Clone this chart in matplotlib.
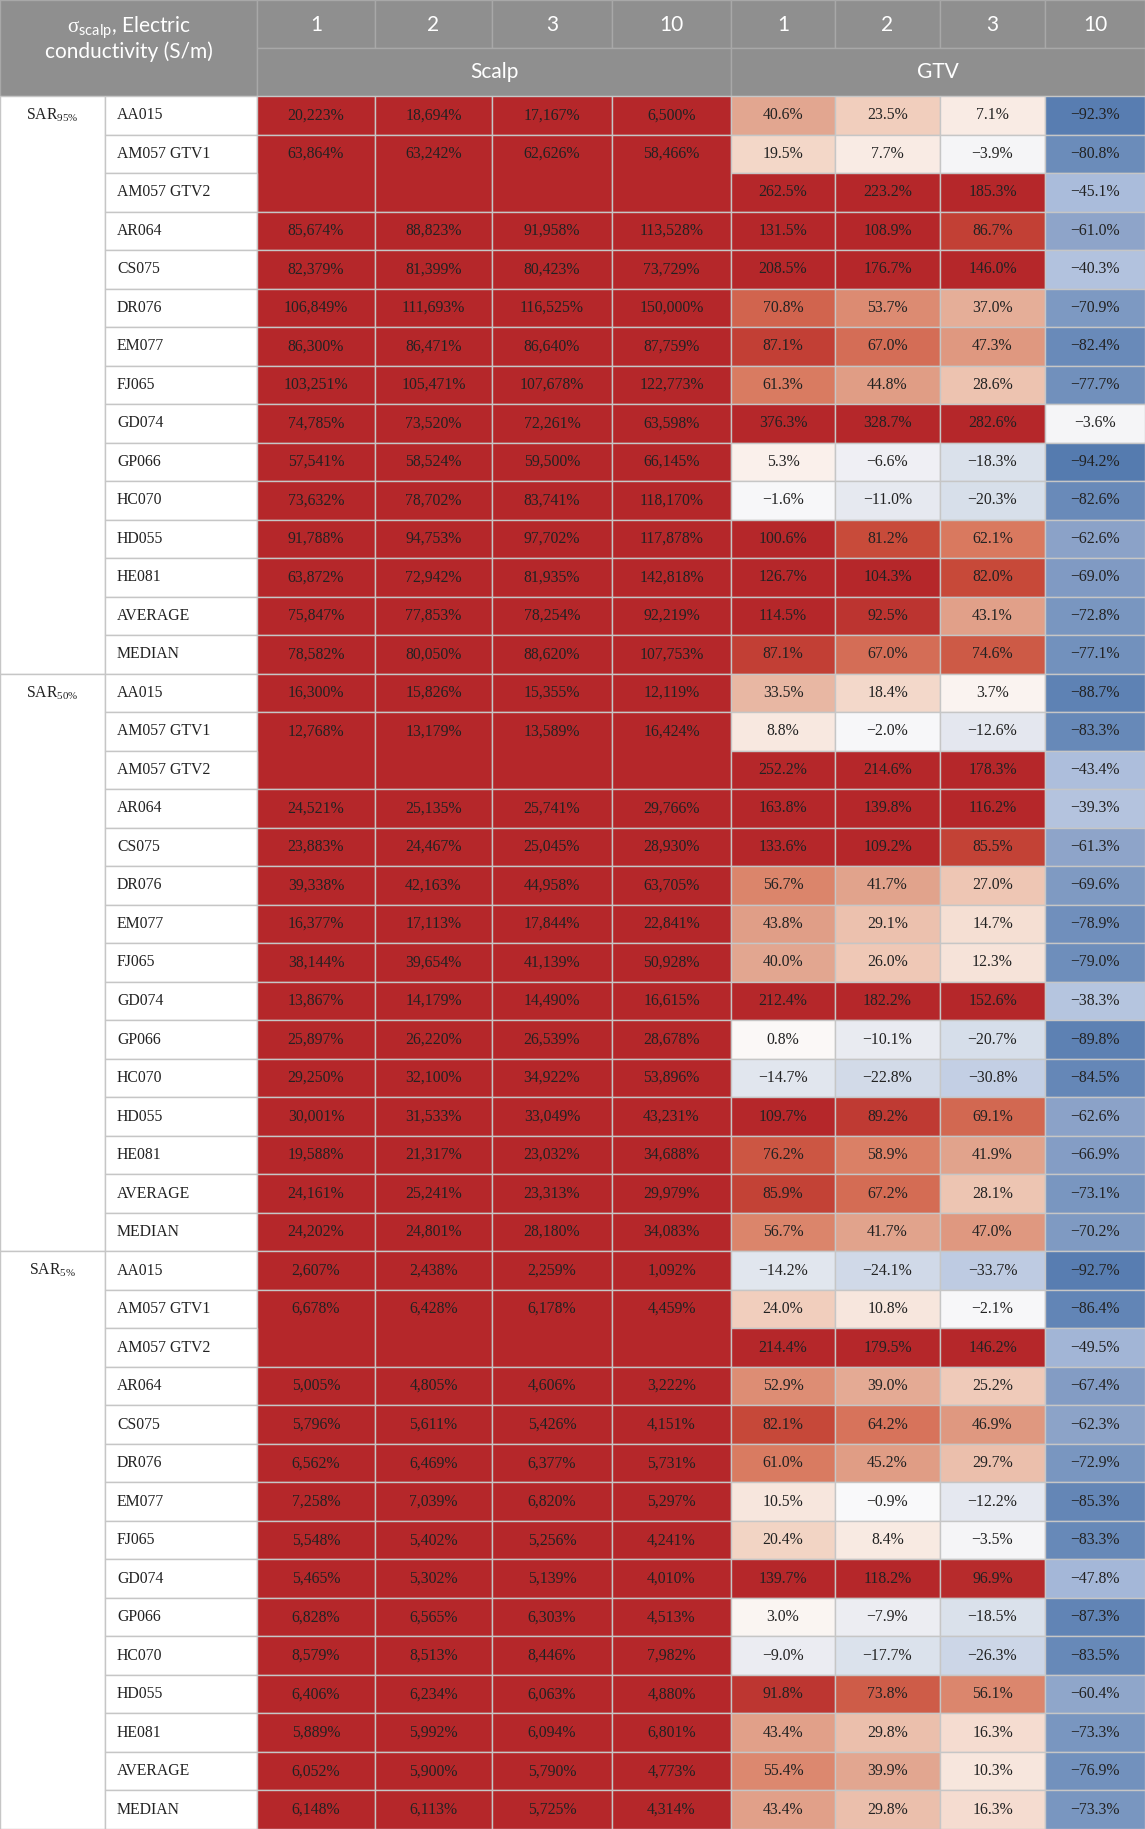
import numpy as np
import matplotlib
matplotlib.use('Agg')
import matplotlib.pyplot as plt
from matplotlib.patches import Rectangle
from matplotlib.colors import LinearSegmentedColormap, Normalize

# ---- data ----
conductivity = ['1', '2', '3', '10']
sar_levels = ['95', '50', '5']
patients = ['AA015', 'AM057 GTV1', 'AM057 GTV2', 'AR064', 'CS075', 'DR076', 'EM077',
            'FJ065', 'GD074', 'GP066', 'HC070', 'HD055', 'HE081', 'AVERAGE', 'MEDIAN']

# scalp values (%), None = merged with the row above
scalp_95 = [[20223, 18694, 17167, 6500], [63864, 63242, 62626, 58466], None,
            [85674, 88823, 91958, 113528], [82379, 81399, 80423, 73729],
            [106849, 111693, 116525, 150000], [86300, 86471, 86640, 87759],
            [103251, 105471, 107678, 122773], [74785, 73520, 72261, 63598],
            [57541, 58524, 59500, 66145], [73632, 78702, 83741, 118170],
            [91788, 94753, 97702, 117878], [63872, 72942, 81935, 142818],
            [75847, 77853, 78254, 92219], [78582, 80050, 88620, 107753]]
scalp_50 = [[16300, 15826, 15355, 12119], [12768, 13179, 13589, 16424], None,
            [24521, 25135, 25741, 29766], [23883, 24467, 25045, 28930],
            [39338, 42163, 44958, 63705], [16377, 17113, 17844, 22841],
            [38144, 39654, 41139, 50928], [13867, 14179, 14490, 16615],
            [25897, 26220, 26539, 28678], [29250, 32100, 34922, 53896],
            [30001, 31533, 33049, 43231], [19588, 21317, 23032, 34688],
            [24161, 25241, 23313, 29979], [24202, 24801, 28180, 34083]]
scalp_5 = [[2607, 2438, 2259, 1092], [6678, 6428, 6178, 4459], None,
           [5005, 4805, 4606, 3222], [5796, 5611, 5426, 4151],
           [6562, 6469, 6377, 5731], [7258, 7039, 6820, 5297],
           [5548, 5402, 5256, 4241], [5465, 5302, 5139, 4010],
           [6828, 6565, 6303, 4513], [8579, 8513, 8446, 7982],
           [6406, 6234, 6063, 4880], [5889, 5992, 6094, 6801],
           [6052, 5900, 5790, 4773], [6148, 6113, 5725, 4314]]

gtv_95 = [[40.6, 23.5, 7.1, -92.3], [19.5, 7.7, -3.9, -80.8], [262.5, 223.2, 185.3, -45.1],
          [131.5, 108.9, 86.7, -61.0], [208.5, 176.7, 146.0, -40.3], [70.8, 53.7, 37.0, -70.9],
          [87.1, 67.0, 47.3, -82.4], [61.3, 44.8, 28.6, -77.7], [376.3, 328.7, 282.6, -3.6],
          [5.3, -6.6, -18.3, -94.2], [-1.6, -11.0, -20.3, -82.6], [100.6, 81.2, 62.1, -62.6],
          [126.7, 104.3, 82.0, -69.0], [114.5, 92.5, 43.1, -72.8], [87.1, 67.0, 74.6, -77.1]]
gtv_50 = [[33.5, 18.4, 3.7, -88.7], [8.8, -2.0, -12.6, -83.3], [252.2, 214.6, 178.3, -43.4],
          [163.8, 139.8, 116.2, -39.3], [133.6, 109.2, 85.5, -61.3], [56.7, 41.7, 27.0, -69.6],
          [43.8, 29.1, 14.7, -78.9], [40.0, 26.0, 12.3, -79.0], [212.4, 182.2, 152.6, -38.3],
          [0.8, -10.1, -20.7, -89.8], [-14.7, -22.8, -30.8, -84.5], [109.7, 89.2, 69.1, -62.6],
          [76.2, 58.9, 41.9, -66.9], [85.9, 67.2, 28.1, -73.1], [56.7, 41.7, 47.0, -70.2]]
gtv_5 = [[-14.2, -24.1, -33.7, -92.7], [24.0, 10.8, -2.1, -86.4], [214.4, 179.5, 146.2, -49.5],
         [52.9, 39.0, 25.2, -67.4], [82.1, 64.2, 46.9, -62.3], [61.0, 45.2, 29.7, -72.9],
         [10.5, -0.9, -12.2, -85.3], [20.4, 8.4, -3.5, -83.3], [139.7, 118.2, 96.9, -47.8],
         [3.0, -7.9, -18.5, -87.3], [-9.0, -17.7, -26.3, -83.5], [91.8, 73.8, 56.1, -60.4],
         [43.4, 29.8, 16.3, -73.3], [55.4, 39.9, 10.3, -76.9], [43.4, 29.8, 16.3, -73.3]]

scalp_all = [scalp_95, scalp_50, scalp_5]
gtv_all = [gtv_95, gtv_50, gtv_5]

# ---- style ----
plt.rcParams['mathtext.fontset'] = 'custom'
plt.rcParams['mathtext.rm'] = 'Liberation Serif'
plt.rcParams['mathtext.sf'] = 'Lato'

anchors = [(-100, '#4c74ab'), (-82.6, '#698ab9'), (-62.6, '#8ca3c8'), (-45, '#aabcdb'),
           (-19, '#d9e0eb'), (-6, '#f0f0f4'), (0, '#fbfbfb'), (7, '#f9ece5'),
           (23.5, '#f1cfbe'), (40.6, '#e2a68f'), (62, '#d97a60'), (81, '#c84b3a'),
           (100, '#b5272a')]
cmap = LinearSegmentedColormap.from_list(
    'heat', [((v + 100) / 200, c) for v, c in anchors])
norm = Normalize(-100, 100, clip=True)

header_bg = '#8f8f8f'
header_line = '#a8a8a8'
grid = '#c6c6c6'
serif = 'Liberation Serif'
sans = 'Lato'

col_edges = [0, 105, 257, 375, 492, 612, 731, 835, 940, 1045, 1145]
W, H = 1145, 1829
h1, h2 = 48, 96
row_h = (H - h2) / 45

fig = plt.figure(figsize=(W / 100, H / 100), dpi=100)
ax = fig.add_axes([0, 0, 1, 1])
ax.set_xlim(0, W)
ax.set_ylim(H, 0)
ax.axis('off')


def cell(x0, x1, y0, y1, fc, ec, lw=1.0):
    ax.add_patch(Rectangle((x0, y0), x1 - x0, y1 - y0, facecolor=fc,
                           edgecolor=ec, linewidth=lw))


# header
cell(0, col_edges[2], 0, h2, header_bg, header_line)
for j in range(8):
    x0, x1 = col_edges[j + 2], col_edges[j + 3]
    cell(x0, x1, 0, h1, header_bg, header_line)
    ax.text((x0 + x1) / 2, h1 / 2 + 1, conductivity[j % 4], color='white',
            fontsize=15, family=sans, ha='center', va='center')
for k, name in enumerate(['Scalp', 'GTV']):
    x0, x1 = col_edges[2 + 4 * k], col_edges[6 + 4 * k]
    cell(x0, x1, h1, h2, header_bg, header_line)
    ax.text((x0 + x1) / 2, (h1 + h2) / 2, name, color='white', fontsize=15,
            family=sans, ha='center', va='center')
ax.text(col_edges[2] / 2, 38,
        r'$\mathrm{σ}_{\mathsf{scalp}}$, Electric' + '\nconductivity (S/m)',
        color='white', fontsize=15, family=sans, ha='center', va='center',
        multialignment='center', linespacing=1.0)

# body
for g, lvl in enumerate(sar_levels):
    top = h2 + g * 15 * row_h
    cell(col_edges[0], col_edges[1], top, top + 15 * row_h, 'white', grid)
    ax.text((col_edges[0] + col_edges[1]) / 2, top + row_h / 2,
            r'SAR$_{\mathrm{' + lvl + r'\%}}$', fontsize=11.3, family=serif,
            color='#222222', ha='center', va='center')
    for i, pat in enumerate(patients):
        y0 = top + i * row_h
        y1 = y0 + row_h
        yc = (y0 + y1) / 2
        cell(col_edges[1], col_edges[2], y0, y1, 'white', grid)
        ax.text(col_edges[1] + 12, yc, pat, fontsize=11.3, family=serif,
                color='#222222', ha='left', va='center')
        srow = scalp_all[g][i]
        if srow is not None:
            span = 2 if i + 1 < len(patients) and scalp_all[g][i + 1] is None else 1
            for j, v in enumerate(srow):
                x0, x1 = col_edges[j + 2], col_edges[j + 3]
                cell(x0, x1, y0, y0 + span * row_h, cmap(norm(v)), grid)
                ax.text((x0 + x1) / 2, yc, f'{v:,}%', fontsize=11.3,
                        family=serif, color='#222222', ha='center', va='center')
        for j, v in enumerate(gtv_all[g][i]):
            x0, x1 = col_edges[j + 6], col_edges[j + 7]
            cell(x0, x1, y0, y1, cmap(norm(v)), grid)
            ax.text((x0 + x1) / 2, yc, f'{v:.1f}%'.replace('-', '\u2212'),
                    fontsize=11.3, family=serif, color='#222222',
                    ha='center', va='center')

fig.savefig('out.png', dpi=100)
